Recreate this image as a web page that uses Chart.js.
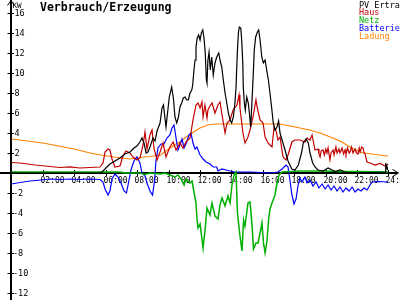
<!DOCTYPE html>
<html>
<head>
<meta charset="utf-8">
<title>Verbrauch/Erzeugung</title>
<script src="https://cdn.jsdelivr.net/npm/chart.js@4.4.1/dist/chart.umd.min.js"></script>
<style>
  html, body { margin: 0; padding: 0; background: #fff; }
  canvas { display: block; }
</style>
</head>
<body>
<canvas id="myChart" width="400" height="300"></canvas>
<script>
// Values (hours of the day, kW)
const pvHours = [0, 5.64, 5.83, 6.08, 6.27, 6.59, 6.91, 7.23, 7.55, 7.80, 7.99, 8.18, 8.31, 8.44, 8.57, 8.69, 8.82, 9.01, 9.14, 9.27, 9.46, 9.59, 9.68, 9.84, 10.05, 10.20, 10.31, 10.41, 10.52, 10.62, 10.73, 10.84, 10.94, 11.05, 11.16, 11.26, 11.37, 11.48, 11.54, 11.62, 11.69, 11.75, 11.83, 11.92, 12.01, 12.09, 12.18, 12.26, 12.34, 12.41, 12.45, 12.51, 12.58, 12.66, 12.75, 12.85, 12.96, 13.07, 13.20, 13.28, 13.39, 13.49, 13.60, 13.71, 13.81, 13.92, 14.02, 14.13, 14.23, 14.30, 14.38, 14.45, 14.51, 14.60, 14.66, 14.73, 14.76, 14.83, 14.89, 14.98, 15.08, 15.15, 15.23, 15.32, 15.40, 15.46, 15.55, 15.66, 15.74, 15.83, 15.94, 16.04, 16.15, 16.25, 16.36, 16.46, 16.57, 16.67, 16.78, 16.91, 17.01, 17.10, 17.23, 17.42, 17.61, 17.85, 18.05, 18.27, 18.48, 18.58, 18.76, 18.90, 19.01, 19.18, 19.33, 19.52, 19.84, 20.16, 20.41, 20.60, 20.92, 21.24, 21.56, 23.80, 23.82, 23.84, 23.90, 23.96];
const pvKw = [0, 0, 0.2, 0.6, 0.9, 1.2, 1.5, 1.9, 2.1, 2.5, 2.7, 3.1, 3.5, 3.0, 2.0, 2.1, 2.6, 3.5, 3.2, 4.2, 5.0, 6.5, 6.8, 4.6, 7.6, 8.6, 7.5, 5.6, 5.0, 5.5, 6.6, 7.0, 7.5, 7.6, 7.3, 7.3, 8.0, 8.3, 8.8, 10.3, 11.3, 12.6, 13.5, 13.8, 13.3, 14.0, 14.3, 13.5, 12.0, 9.3, 9.0, 11.3, 12.1, 10.3, 11.6, 9.8, 11.0, 11.6, 12.0, 11.3, 10.6, 9.3, 8.0, 7.0, 6.0, 5.3, 5.0, 5.6, 7.0, 8.6, 12.0, 14.0, 14.6, 14.5, 13.3, 11.0, 8.6, 7.0, 6.3, 7.6, 7.0, 6.0, 4.6, 7.3, 10.0, 12.3, 13.6, 14.1, 14.3, 13.3, 11.6, 11.0, 11.3, 10.3, 9.3, 8.0, 6.5, 5.0, 4.3, 4.6, 5.2, 4.0, 3.3, 2.3, 1.2, 0.4, 0.3, 0.8, 2.1, 3.0, 3.4, 3.0, 2.0, 1.0, 0.6, 0.3, 0.2, 0.5, 0.3, 0.15, 0.3, 0.1, 0, 0.1, 1.0, 0.3, 0.7, 0.3];

const hausHours = [0, 0.54, 1.50, 2.45, 3.09, 3.73, 4.36, 5.00, 5.64, 5.83, 5.96, 6.15, 6.27, 6.40, 6.59, 6.91, 7.10, 7.29, 7.55, 7.74, 7.99, 8.18, 8.38, 8.50, 8.63, 8.82, 8.95, 9.08, 9.27, 9.46, 9.65, 9.84, 10.09, 10.29, 10.48, 10.73, 10.92, 11.11, 11.37, 11.56, 11.75, 11.88, 12.01, 12.13, 12.20, 12.32, 12.45, 12.51, 12.64, 12.77, 12.96, 13.15, 13.28, 13.41, 13.60, 13.73, 13.92, 14.11, 14.36, 14.49, 14.55, 14.74, 14.87, 15.06, 15.19, 15.38, 15.57, 15.64, 15.83, 16.02, 16.15, 16.34, 16.46, 16.59, 16.72, 16.85, 16.97, 17.10, 17.29, 17.48, 17.61, 17.86, 18.05, 18.37, 18.69, 18.82, 19.01, 19.14, 19.33, 19.52, 19.58, 19.65, 19.72, 19.84, 19.92, 20.02, 20.09, 20.16, 20.28, 20.35, 20.48, 20.54, 20.66, 20.73, 20.85, 20.92, 21.05, 21.15, 21.24, 21.30, 21.40, 21.50, 21.56, 21.65, 21.75, 21.88, 21.97, 22.07, 22.14, 22.20, 22.30, 22.39, 22.45, 22.51, 22.64, 22.83, 23.15, 23.47, 23.79, 23.98];
const hausKw = [1.05, 1.0, 0.8, 0.65, 0.55, 0.62, 0.5, 0.55, 0.6, 1.0, 2.1, 2.4, 2.3, 1.4, 0.6, 0.7, 1.7, 2.2, 2.0, 1.6, 1.3, 1.5, 2.8, 4.1, 2.4, 3.8, 4.3, 2.4, 1.3, 2.1, 3.0, 1.6, 2.6, 3.1, 2.3, 3.0, 2.5, 3.1, 3.5, 5.3, 6.8, 7.0, 6.5, 7.1, 5.6, 6.8, 5.5, 6.3, 6.7, 7.0, 6.0, 6.8, 7.1, 5.8, 4.0, 5.0, 5.3, 6.3, 6.8, 7.8, 6.5, 4.0, 3.0, 3.6, 4.3, 5.6, 7.3, 6.6, 5.3, 5.0, 3.6, 3.0, 2.8, 2.6, 4.6, 4.2, 3.3, 3.6, 1.6, 1.3, 1.8, 3.1, 3.3, 3.3, 3.1, 3.5, 3.3, 3.8, 2.3, 2.4, 1.9, 1.6, 2.2, 2.3, 1.8, 2.4, 2.0, 2.5, 1.3, 2.0, 2.3, 1.8, 2.6, 2.0, 2.4, 2.0, 2.5, 1.9, 2.3, 1.9, 2.5, 2.0, 2.1, 2.6, 2.0, 2.4, 2.0, 1.9, 2.5, 2.1, 2.6, 2.5, 2.0, 1.9, 1.1, 1.0, 0.8, 0.95, 0.7, 0.9];

const netzHours = [0, 6.91, 7.23, 8.18, 8.50, 8.82, 9.46, 9.78, 10.09, 10.41, 10.60, 10.80, 10.99, 11.11, 11.24, 11.37, 11.50, 11.62, 11.75, 11.81, 11.88, 12.01, 12.20, 12.32, 12.45, 12.64, 12.77, 12.96, 13.15, 13.28, 13.41, 13.60, 13.79, 13.92, 14.04, 14.17, 14.30, 14.39, 14.55, 14.68, 14.78, 14.87, 15.06, 15.19, 15.32, 15.41, 15.57, 15.70, 15.83, 15.95, 16.05, 16.15, 16.27, 16.37, 16.46, 16.59, 16.78, 16.91, 17.04, 17.23, 17.74, 18.37, 19.65, 20.92, 22.20, 23.98];
const netzKw = [0.1, 0.1, 0.0, 0.0, -0.15, 0.0, -0.1, 0.0, -0.2, -0.4, -0.2, -0.6, -1.2, -0.6, -0.8, -1.0, -0.8, -1.9, -3.0, -4.5, -5.5, -5.1, -7.5, -5.8, -3.5, -4.2, -3.0, -4.3, -4.6, -3.2, -2.5, -3.3, -2.3, -3.0, -1.2, -0.2, 0.1, -4.0, -6.3, -7.8, -4.7, -5.3, -3.0, -2.9, -5.2, -7.6, -7.0, -7.0, -6.0, -5.0, -7.0, -8.0, -6.8, -4.7, -3.6, -3.0, -2.2, -1.0, -0.2, 0.1, 0.15, 0.2, 0.2, 0.15, 0.15, 0.1];

const batterieHours = [0, 0.54, 1.18, 1.88, 2.45, 3.09, 3.73, 4.36, 5.00, 5.64, 5.83, 5.96, 6.15, 6.27, 6.40, 6.59, 6.78, 6.97, 7.17, 7.32, 7.45, 7.61, 7.80, 7.99, 8.18, 8.31, 8.50, 8.63, 8.82, 8.98, 9.11, 9.20, 9.33, 9.52, 9.71, 9.90, 10.09, 10.22, 10.35, 10.48, 10.60, 10.73, 10.86, 10.99, 11.11, 11.30, 11.43, 11.56, 11.69, 11.81, 12.01, 12.20, 12.39, 12.64, 12.85, 13.07, 13.15, 13.41, 13.66, 13.92, 14.23, 15.19, 15.95, 16.46, 16.97, 17.23, 17.48, 17.61, 17.74, 17.86, 17.99, 18.12, 18.25, 18.37, 18.50, 18.69, 18.82, 19.01, 19.20, 19.39, 19.58, 19.78, 19.97, 20.16, 20.35, 20.54, 20.73, 20.92, 21.11, 21.30, 21.50, 21.69, 21.88, 22.07, 22.26, 22.45, 22.64, 22.83, 22.96, 23.34, 23.98];
const batterieKw = [-1.1, -0.95, -0.8, -0.7, -0.6, -0.65, -0.6, -0.65, -0.6, -0.65, -0.9, -1.6, -2.2, -1.8, -0.6, -0.1, -0.4, -1.0, -1.8, -2.0, -1.0, 0.3, 1.2, 1.6, 1.0, 0.0, -0.3, -1.0, -1.8, -2.2, -0.8, 1.2, 2.5, 2.9, 2.9, 3.5, 3.8, 4.5, 4.8, 3.5, 2.3, 2.8, 3.4, 2.5, 2.9, 3.8, 4.0, 3.0, 2.4, 2.6, 1.8, 1.4, 1.1, 0.9, 0.6, 0.6, 0.2, 0.4, 0.3, 0.2, 0.1, 0.1, 0.05, 0.0, 0.1, 0.4, 0.8, 0.6, -0.8, -2.2, -3.1, -2.6, -1.2, -0.5, -0.9, -0.4, -1.0, -0.7, -1.3, -0.9, -1.5, -1.1, -1.6, -1.2, -1.7, -1.3, -1.8, -1.4, -1.9, -1.5, -1.8, -1.4, -1.9, -1.6, -1.8, -1.5, -1.7, -1.2, -0.9, -0.85, -0.9];

const ladungHours = [0, 1, 2, 3, 4, 5, 6.27, 7, 7.55, 8.2, 8.8, 9.5, 10.1, 10.7, 11.4, 12, 12.5, 13, 17.1, 17.74, 18.37, 19, 19.65, 20.3, 20.92, 21.56, 22.2, 22.5, 23.15, 23.98];
const ladungKw = [3.4, 3.2, 3.0, 2.7, 2.4, 2.0, 1.65, 1.5, 1.4, 1.55, 1.65, 1.8, 2.5, 3.1, 3.9, 4.5, 4.8, 4.9, 4.9, 4.7, 4.5, 4.3, 4.0, 3.6, 3.2, 2.6, 2.1, 2.0, 1.85, 1.7];

const seriesNames = ['PV Ertrag', 'Haus', 'Netz', 'Batterie', 'Ladung'];
const seriesColors = ['#000000', '#c00000', '#00b000', '#0000ff', '#ff8000'];

const hourTicks = [2, 4, 6, 8, 10, 12, 14, 16, 18, 20, 22, 24];
const hourLabels = ['02:00', '04:00', '06:00', '08:00', '10:00', '12:00', '14:00', '16:00', '18:00', '20:00', '22:00', '24:00'];
const kwTicks = [-12, -10, -8, -6, -4, -2, 2, 4, 6, 8, 10, 12, 14, 16];

const toPoints = (hours, values) => hours.map((h, i) => ({ x: h, y: values[i] }));

// Axes, ticks, title and legend drawn in the old pixel-chart style
const axesPlugin = {
    id: 'axes',
    beforeDraw(chart) {
        const c = chart.ctx;
        c.save();
        c.fillStyle = '#ffffff';
        c.fillRect(0, 0, chart.width, chart.height);
        c.restore();
    },
    beforeDatasetsDraw(chart) {
        const c = chart.ctx;
        const xs = chart.scales.x;
        const ys = chart.scales.y;
        const x0 = Math.round(xs.getPixelForValue(0));
        const y0 = Math.round(ys.getPixelForValue(0));

        c.save();
        c.strokeStyle = '#000000';
        c.fillStyle = '#000000';

        // axis lines
        c.lineWidth = 2;
        c.beginPath();
        c.moveTo(0, y0);
        c.lineTo(398, y0);
        c.moveTo(x0, 0);
        c.lineTo(x0, chart.height);
        c.stroke();

        // arrow heads
        c.lineWidth = 1;
        c.beginPath();
        c.moveTo(392.5, y0 - 3.5);
        c.lineTo(398.5, y0);
        c.lineTo(392.5, y0 + 3.5);
        c.moveTo(x0 - 3.5, 5.5);
        c.lineTo(x0, 0.5);
        c.lineTo(x0 + 3.5, 5.5);
        c.stroke();

        // y ticks and labels
        c.font = '8.5px "DejaVu Sans Mono"';
        c.textBaseline = 'middle';
        c.textAlign = 'left';
        kwTicks.forEach((v) => {
            const py = Math.round(ys.getPixelForValue(v)) + 0.5;
            c.beginPath();
            c.moveTo(x0 - 3.5, py);
            c.lineTo(x0 + 3, py);
            c.stroke();
            c.fillText(String(v), v < 0 ? x0 + 2 : x0 + 3.5, py);
        });

        // x ticks and labels
        c.font = '8px "DejaVu Sans Mono"';
        c.textBaseline = 'top';
        hourTicks.forEach((h, i) => {
            const px = Math.round(xs.getPixelForValue(h)) + 0.5;
            c.beginPath();
            c.moveTo(px, y0 - 3);
            c.lineTo(px, y0 + 3);
            c.stroke();
            c.fillText(hourLabels[i], px - 3, y0 + 4);
        });

        // unit and title
        c.font = '7.5px "DejaVu Sans Mono"';
        c.textBaseline = 'alphabetic';
        c.fillText('KW', x0 + 1.5, 7.5);
        c.font = 'bold 11.5px "DejaVu Sans Mono"';
        c.fillText('Verbrauch/Erzeugung', 40, 11);

        // legend
        c.font = '8.5px "DejaVu Sans Mono"';
        seriesNames.forEach((name, i) => {
            c.fillStyle = seriesColors[i];
            c.fillText(name, 359, 7.5 + i * 7.75);
        });
        c.restore();
    }
};

const ctx = document.getElementById('myChart').getContext('2d');
const seriesData = [
    toPoints(pvHours, pvKw),
    toPoints(hausHours, hausKw),
    toPoints(netzHours, netzKw),
    toPoints(batterieHours, batterieKw),
    toPoints(ladungHours, ladungKw),
];

new Chart(ctx, {
    type: 'line',
    data: {
        datasets: seriesNames.map((name, i) => ({
            label: name,
            data: seriesData[i],
            borderColor: seriesColors[i],
            borderWidth: i === 2 ? 1.5 : 1.2,
            pointRadius: 0,
            tension: 0,
            fill: false,
        }))
    },
    options: {
        responsive: false,
        animation: false,
        devicePixelRatio: 1,
        layout: { padding: 0 },
        plugins: {
            legend: { display: false },
            tooltip: { enabled: false },
            title: { display: false }
        },
        scales: {
            x: { type: 'linear', min: -0.73, max: 24.74, display: false },
            y: { type: 'linear', min: -12.7, max: 17.3, display: false }
        }
    },
    plugins: [axesPlugin]
});
</script>
</body>
</html>
